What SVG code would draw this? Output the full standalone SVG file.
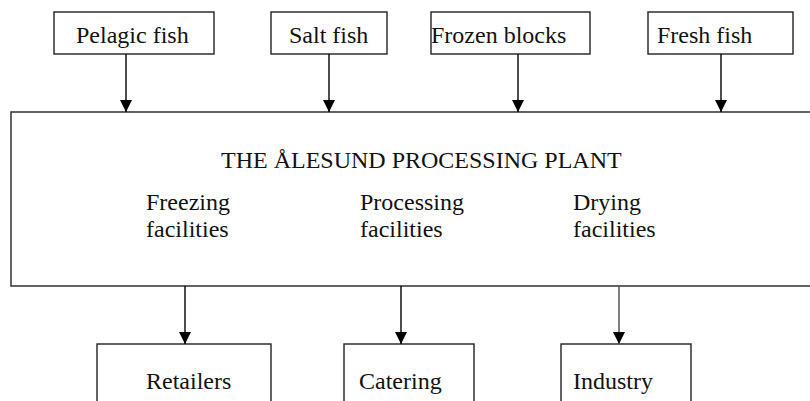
<svg xmlns="http://www.w3.org/2000/svg" width="810" height="401" viewBox="0 0 810 401">
  <defs>
    <marker id="arrow" viewBox="0 0 12 12" refX="12" refY="6" markerWidth="12" markerHeight="12" markerUnits="userSpaceOnUse" orient="auto">
      <path d="M0,0 L12,6 L0,12 Z" fill="#000"/>
    </marker>
    <style>
      .box { fill: #fff; stroke: #222; stroke-width: 1.4; }
      .lbl { font-family: "Liberation Serif", "Times New Roman", serif; font-size: 24px; fill: #111; }
      .conn { stroke: #111; stroke-width: 1.5; fill: none; marker-end: url(#arrow); }
    </style>
  </defs>
  <rect width="810" height="401" fill="#fff"/>

  <!-- plant -->
  <g id="plant">
    <rect class="box" x="11" y="112" width="820" height="174"/>
    <text class="lbl" x="221" y="168">THE ÅLESUND PROCESSING PLANT</text>
    <text class="lbl" x="146" y="210">Freezing</text>
    <text class="lbl" x="146" y="237">facilities</text>
    <text class="lbl" x="360" y="210">Processing</text>
    <text class="lbl" x="360" y="237">facilities</text>
    <text class="lbl" x="573" y="210">Drying</text>
    <text class="lbl" x="573" y="237">facilities</text>
  </g>

  <!-- inputs -->
  <g id="pelagic">
    <rect class="box" x="54" y="12" width="160" height="42"/>
    <text class="lbl" x="76" y="43">Pelagic fish</text>
  </g>
  <g id="salt">
    <rect class="box" x="271" y="12" width="116" height="42"/>
    <text class="lbl" x="289" y="43">Salt fish</text>
  </g>
  <g id="frozen">
    <rect class="box" x="431" y="12" width="159" height="42"/>
    <text class="lbl" x="431" y="43">Frozen blocks</text>
  </g>
  <g id="fresh">
    <rect class="box" x="648" y="12" width="145" height="42"/>
    <text class="lbl" x="657" y="43">Fresh fish</text>
  </g>

  <!-- outputs -->
  <g id="retailers">
    <rect class="box" x="97" y="344" width="174" height="80"/>
    <text class="lbl" x="146" y="389">Retailers</text>
  </g>
  <g id="catering">
    <rect class="box" x="344" y="344" width="130" height="80"/>
    <text class="lbl" x="359" y="389">Catering</text>
  </g>
  <g id="industry">
    <rect class="box" x="561" y="344" width="130" height="80"/>
    <text class="lbl" x="573" y="389">Industry</text>
  </g>

  <!-- connectors -->
  <g id="connectors">
    <line class="conn" x1="126" y1="54" x2="126" y2="112"/>
    <line class="conn" x1="329" y1="54" x2="329" y2="112"/>
    <line class="conn" x1="518" y1="54" x2="518" y2="112"/>
    <line class="conn" x1="721" y1="54" x2="721" y2="112"/>
    <line class="conn" x1="185" y1="286" x2="185" y2="344"/>
    <line class="conn" x1="401" y1="286" x2="401" y2="344"/>
    <line class="conn" x1="619" y1="286" x2="619" y2="344" style="stroke:#555"/>
  </g>
</svg>
